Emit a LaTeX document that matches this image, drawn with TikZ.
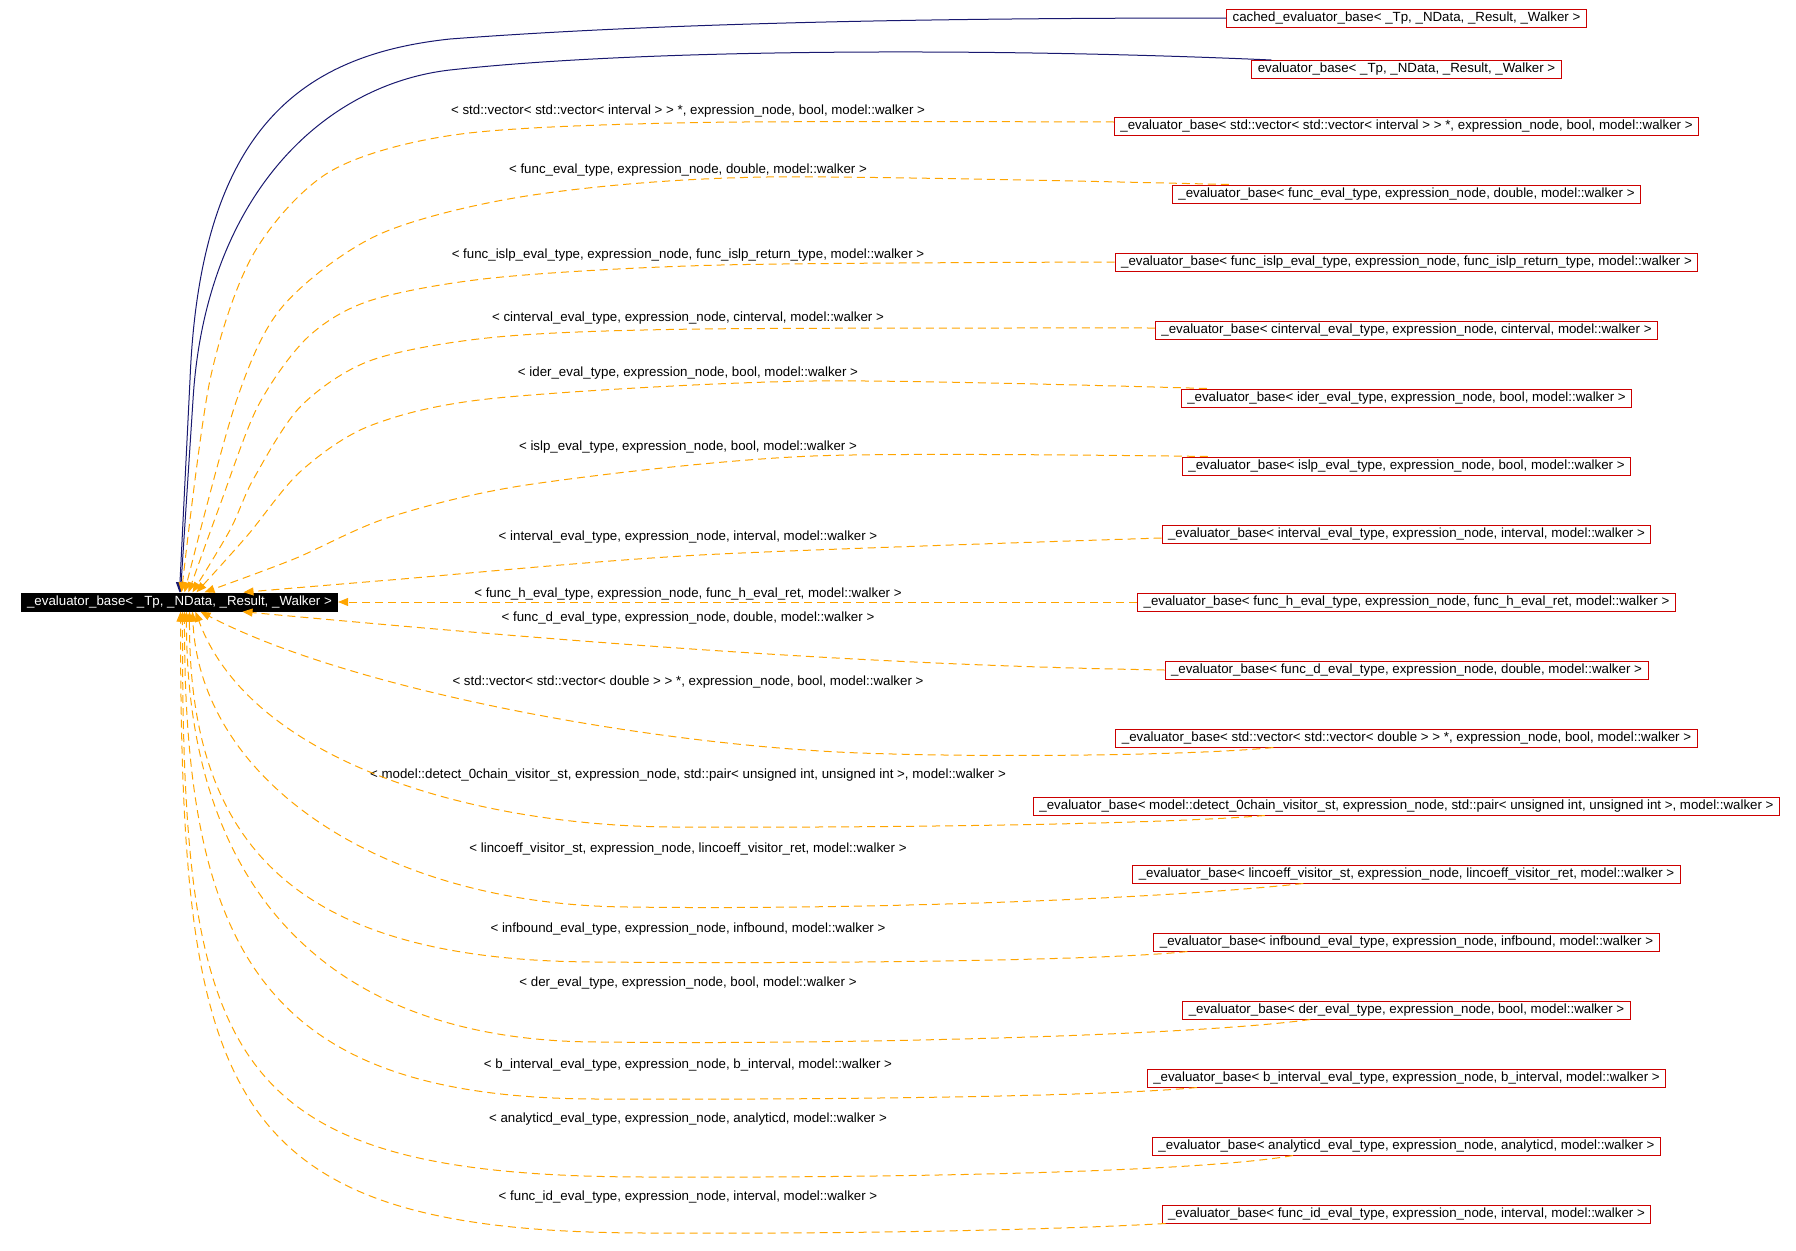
\documentclass[tikz,border=0pt]{standalone}
\usepackage{fontspec}
\setmainfont{Liberation Sans}
\usetikzlibrary{arrows.meta}
\definecolor{doxorange}{RGB}{255,165,0}
\definecolor{doxred}{RGB}{204,0,0}
\definecolor{doxnavy}{RGB}{25,25,112}
\newcommand{\evb}{\_evaluator\_base}
\begin{document}
\begin{tikzpicture}[x=1pt,y=-1pt,
  font=\fontsize{13.3}{16}\selectfont,
  cls/.style={draw=doxred, line width=1pt, fill=white, inner xsep=6pt, inner ysep=0pt, minimum height=18pt, text height=9.6pt, text depth=2.8pt},
  basecls/.style={fill=black, text=white, inner xsep=6pt, inner ysep=0pt, minimum height=19pt, text height=9.6pt, text depth=2.8pt},
  tmpl/.style={draw=doxorange, line width=1pt, dash pattern=on 8pt off 5pt, -{Triangle[length=10pt,width=8pt]}},
  inh/.style={draw=doxnavy, line width=1pt, -{Triangle[length=10pt,width=8pt]}},
  lbl/.style={inner sep=0pt, text height=9.6pt, text depth=2.8pt},
  sm/.style={smooth, tension=0.5}
]
\useasboundingbox[fill=white] (0,0) rectangle (1796,1250);

% main node
\node[basecls] (m) at (179.5,602) {\_evaluator\_base< \_Tp, \_NData, \_Result, \_Walker >};

% derived / instance boxes
\node[cls] (c1) at (1406.5,18) {cached\_evaluator\_base< \_Tp, \_NData, \_Result, \_Walker >};
\node[cls] (c2) at (1406.5,69.5) {evaluator\_base< \_Tp, \_NData, \_Result, \_Walker >};
\node[cls] (b0) at (1406.5,126) {\evb< std::vector< std::vector< interval > > *, expression\_node, bool, model::walker >};
\node[cls] (b1) at (1406.5,194) {\evb< func\_eval\_type, expression\_node, double, model::walker >};
\node[cls] (b2) at (1406.5,262) {\evb< func\_islp\_eval\_type, expression\_node, func\_islp\_return\_type, model::walker >};
\node[cls] (b3) at (1406.5,330) {\evb< cinterval\_eval\_type, expression\_node, cinterval, model::walker >};
\node[cls] (b4) at (1406.5,398) {\evb< ider\_eval\_type, expression\_node, bool, model::walker >};
\node[cls] (b5) at (1406.5,466) {\evb< islp\_eval\_type, expression\_node, bool, model::walker >};
\node[cls] (b6) at (1406.5,534) {\evb< interval\_eval\_type, expression\_node, interval, model::walker >};
\node[cls] (b7) at (1406.5,602) {\evb< func\_h\_eval\_type, expression\_node, func\_h\_eval\_ret, model::walker >};
\node[cls] (b8) at (1406.5,670) {\evb< func\_d\_eval\_type, expression\_node, double, model::walker >};
\node[cls] (b9) at (1406.5,738) {\evb< std::vector< std::vector< double > > *, expression\_node, bool, model::walker >};
\node[cls] (b10) at (1406.5,806) {\evb< model::detect\_0chain\_visitor\_st, expression\_node, std::pair< unsigned int, unsigned int >, model::walker >};
\node[cls] (b11) at (1406.5,874) {\evb< lincoeff\_visitor\_st, expression\_node, lincoeff\_visitor\_ret, model::walker >};
\node[cls] (b12) at (1406.5,942) {\evb< infbound\_eval\_type, expression\_node, infbound, model::walker >};
\node[cls] (b13) at (1406.5,1010) {\evb< der\_eval\_type, expression\_node, bool, model::walker >};
\node[cls] (b14) at (1406.5,1078) {\evb< b\_interval\_eval\_type, expression\_node, b\_interval, model::walker >};
\node[cls] (b15) at (1406.5,1146) {\evb< analyticd\_eval\_type, expression\_node, analyticd, model::walker >};
\node[cls] (b16) at (1406.5,1214) {\evb< func\_id\_eval\_type, expression\_node, interval, model::walker >};

% edge labels
\node[lbl] (l0) at (688,110.7) {< std::vector< std::vector< interval > > *, expression\_node, bool, model::walker >};
\node[lbl] (l1) at (688,170) {< func\_eval\_type, expression\_node, double, model::walker >};
\node[lbl] (l2) at (688,255) {< func\_islp\_eval\_type, expression\_node, func\_islp\_return\_type, model::walker >};
\node[lbl] (l3) at (688,318) {< cinterval\_eval\_type, expression\_node, cinterval, model::walker >};
\node[lbl] (l4) at (688,373.3) {< ider\_eval\_type, expression\_node, bool, model::walker >};
\node[lbl] (l5) at (688,446.7) {< islp\_eval\_type, expression\_node, bool, model::walker >};
\node[lbl] (l6) at (688,536.7) {< interval\_eval\_type, expression\_node, interval, model::walker >};
\node[lbl] (l7) at (688,594) {< func\_h\_eval\_type, expression\_node, func\_h\_eval\_ret, model::walker >};
\node[lbl] (l8) at (688,618.3) {< func\_d\_eval\_type, expression\_node, double, model::walker >};
\node[lbl] (l9) at (688,682.3) {< std::vector< std::vector< double > > *, expression\_node, bool, model::walker >};
\node[lbl] (l10) at (688,775) {< model::detect\_0chain\_visitor\_st, expression\_node, std::pair< unsigned int, unsigned int >, model::walker >};
\node[lbl] (l11) at (688,849.3) {< lincoeff\_visitor\_st, expression\_node, lincoeff\_visitor\_ret, model::walker >};
\node[lbl] (l12) at (688,929) {< infbound\_eval\_type, expression\_node, infbound, model::walker >};
\node[lbl] (l13) at (688,982.7) {< der\_eval\_type, expression\_node, bool, model::walker >};
\node[lbl] (l14) at (688,1065) {< b\_interval\_eval\_type, expression\_node, b\_interval, model::walker >};
\node[lbl] (l15) at (688,1119.3) {< analyticd\_eval\_type, expression\_node, analyticd, model::walker >};
\node[lbl] (l16) at (688,1197.3) {< func\_id\_eval\_type, expression\_node, interval, model::walker >};

% public inheritance (navy)
\draw[inh] (c1.west) .. controls (900,18) and (650,24) .. (450,39) .. controls (300,55) and (200,130) .. (190,380) -- (m.north);
\draw[inh] ([xshift=20pt]c2.north west) .. controls (1000,48) and (650,48) .. (450,70) .. controls (320,85) and (205,200) .. (193,400) -- ([xshift=1pt]m.north);

% template instances (orange dashed), upper group
\draw[tmpl] plot[sm] coordinates {([yshift=4pt]b0.west) (700,122.5) (461,134) (331,171) (254,253) (210,380) ([xshift=2pt]m.north)};
\draw[tmpl] plot[sm] coordinates {([xshift=57pt]b1.north west) (767,177) (533,195) (380,234) (283,306) (236,402) ([xshift=5pt]m.north)};
\draw[tmpl] plot[sm] coordinates {(b2.west) (721,265) (497,277.5) (372,300) (308,337) (258,406) (220,505) ([xshift=9pt]m.north)};
\draw[tmpl] plot[sm] coordinates {([yshift=2pt]b3.west) (700,329) (497,337) (372,360) (301,406) (254,478) (230,530) ([xshift=13pt]m.north)};
\draw[tmpl] plot[sm] coordinates {([xshift=26pt]b4.north west) (813,381) (497,398) (372,425) (301,471) (247,536) ([xshift=17pt]m.north)};
\draw[tmpl] plot[sm] coordinates {([xshift=26pt]b5.north west) (813,456) (533,484) (390,517) (294,559) ([xshift=25pt]m.north)};
\draw[tmpl] plot[sm] coordinates {([yshift=-4pt]b6.west) (700,555) (390,580) ([xshift=64pt]m.north)};

% straight one
\draw[tmpl] (b7.west) -- (m.east);

% lower group
\draw[tmpl] (b8.west) .. controls (850,665) and (550,640) .. ([xshift=63pt]m.south);
\draw[tmpl] ([xshift=158pt]b9.south west) .. controls (1200,755) and (1000,758) .. (860,753) .. controls (650,745) and (350,690) .. ([xshift=21pt]m.south);
\draw[tmpl] ([xshift=232pt]b10.south west) .. controls (1150,825) and (850,828) .. (674,827) .. controls (470,826) and (250,760) .. ([xshift=16pt]m.south);
\draw[tmpl] ([xshift=171pt]b11.south west) .. controls (1150,900) and (850,910) .. (628,907) .. controls (380,905) and (200,780) .. ([xshift=13pt]m.south);
\draw[tmpl] ([xshift=34pt]b12.south west) .. controls (1100,961) and (800,964) .. (600,962) .. controls (300,962) and (189,850) .. ([xshift=10pt]m.south);
\draw[tmpl] ([xshift=128pt]b13.south west) .. controls (1200,1035) and (850,1045) .. (600,1042) .. controls (310,1042) and (186,870) .. ([xshift=7pt]m.south);
\draw[tmpl] ([xshift=50pt]b14.south west) .. controls (1100,1097) and (800,1100) .. (600,1099) .. controls (270,1099) and (184,960) .. ([xshift=5pt]m.south);
\draw[tmpl] ([xshift=141pt]b15.south west) .. controls (1200,1172) and (900,1178) .. (650,1177) .. controls (222,1177) and (182,1064) .. ([xshift=3pt]m.south);
\draw[tmpl] ([xshift=4pt]b16.south west) .. controls (1050,1230) and (850,1234) .. (650,1233) .. controls (220,1233) and (181,1100) .. ([xshift=1pt]m.south);
\end{tikzpicture}
\end{document}
